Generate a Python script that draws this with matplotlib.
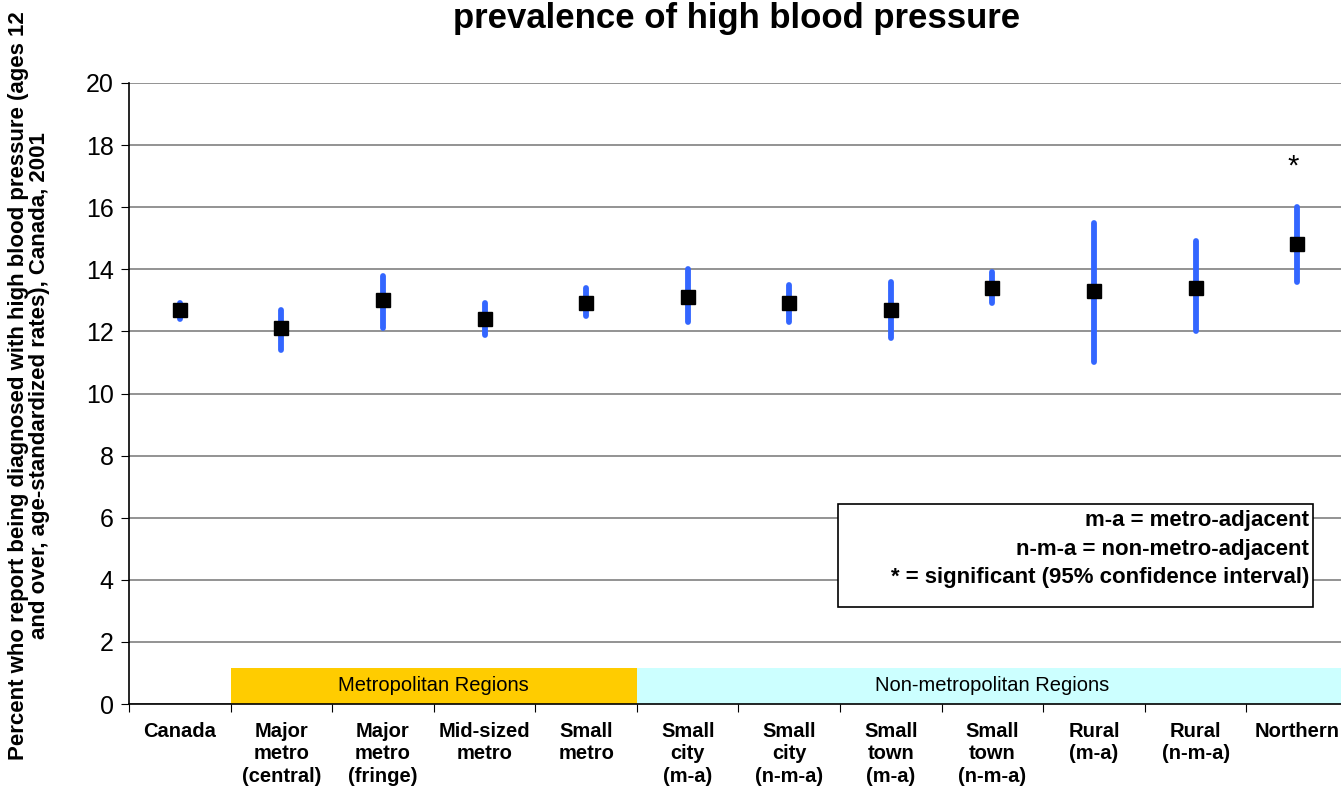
import matplotlib
matplotlib.use("Agg")
import matplotlib.pyplot as plt
from matplotlib.patches import Rectangle

plt.rcParams['font.family'] = ['Liberation Sans', 'DejaVu Sans']

categories = ["Canada", "Major\nmetro\n(central)", "Major\nmetro\n(fringe)", "Mid-sized\nmetro",
              "Small\nmetro", "Small\ncity\n(m-a)", "Small\ncity\n(n-m-a)", "Small\ntown\n(m-a)",
              "Small\ntown\n(n-m-a)", "Rural\n(m-a)", "Rural\n(n-m-a)", "Northern"]
rates = [12.7, 12.1, 13.0, 12.4, 12.9, 13.1, 12.9, 12.7, 13.4, 13.3, 13.4, 14.8]
ci_low = [12.4, 11.4, 12.1, 11.9, 12.5, 12.3, 12.3, 11.8, 12.9, 11.0, 12.0, 13.6]
ci_high = [12.9, 12.7, 13.8, 12.9, 13.4, 14.0, 13.5, 13.6, 13.9, 15.5, 14.9, 16.0]
significant = [False] * 11 + [True]
notes = ["m-a = metro-adjacent", "n-m-a = non-metro-adjacent", "* = significant (95% confidence interval)"]

W, H = 1341, 793
fig = plt.figure(figsize=(W / 100, H / 100), dpi=100)
ax_left, ax_right = 129, 1348
ax = fig.add_axes([ax_left / W, 1 - 704 / H, (ax_right - ax_left) / W, (704 - 83) / H])

x = list(range(len(categories)))
ax.set_xlim(-0.5, len(categories) - 0.5)
ax.set_ylim(0, 20)
ax.set_yticks(range(0, 21, 2))
ax.yaxis.grid(True, color='#808080', linewidth=1.2)
ax.set_axisbelow(True)

# region bands
ax.add_patch(Rectangle((0.5, 0), 4, 1.16, facecolor='#FFCC00', edgecolor='none', zorder=2))
ax.add_patch(Rectangle((4.5, 0), 7, 1.16, facecolor='#CCFFFF', edgecolor='none', zorder=2))
ax.text(2.5, 0.58, "Metropolitan Regions", ha='center', va='center', fontsize=14.5, zorder=3)
ax.text(8.0, 0.58, "Non-metropolitan Regions", ha='center', va='center', fontsize=14.5, zorder=3)

for xi, lo, hi in zip(x, ci_low, ci_high):
    ax.plot([xi, xi], [lo, hi], color='#3366FF', linewidth=4.2, solid_capstyle='round', zorder=4)
ax.plot(x, rates, linestyle='none', marker='s', markersize=9.5, color='black', zorder=5)
for xi, hi, s in zip(x, ci_high, significant):
    if s:
        ax.text(xi - 0.04, hi + 0.85, "*", ha='center', va='bottom', fontsize=21)

for s in ['top', 'right']:
    ax.spines[s].set_visible(False)
ax.spines['left'].set_linewidth(1.2)
ax.spines['bottom'].set_linewidth(1.2)

ax.set_xticks([i + 0.5 for i in range(-1, len(categories))])
ax.set_xticklabels([])
ax.set_xticks(x, minor=True)
ax.set_xticklabels(categories, minor=True, fontsize=14.5, fontweight='bold', linespacing=1.22, va='top')
ax.tick_params(axis='x', which='minor', length=0, pad=13)
ax.tick_params(axis='x', which='major', length=6, direction='out')
ax.tick_params(axis='y', labelsize=18, length=6, direction='out', pad=5)

# y label
fig.text(29 / W, 1 - 386 / H,
         "Percent who report being diagnosed with high blood pressure (ages 12\n"
         "and over, age-standardized rates), Canada, 2001",
         rotation=90, ha='center', va='center', fontsize=16, fontweight='bold',
         linespacing=1.0, multialignment='center')

# title
fig.text(737 / W, 1 - 28 / H, "prevalence of high blood pressure", ha='center', va='baseline',
         fontsize=25, fontweight='bold')

# note box
fig.patches.append(Rectangle((838 / W, 1 - 607 / H), (1313 - 838) / W, (607 - 504) / H,
                             transform=fig.transFigure, facecolor='white', edgecolor='black',
                             linewidth=1.2, zorder=6))
for i, t in enumerate(notes):
    fig.text(1309 / W, 1 - (526 + 28.5 * i) / H, t, ha='right', va='baseline', fontsize=16,
             fontweight='bold', zorder=7)

fig.savefig("out.png", dpi=100)
